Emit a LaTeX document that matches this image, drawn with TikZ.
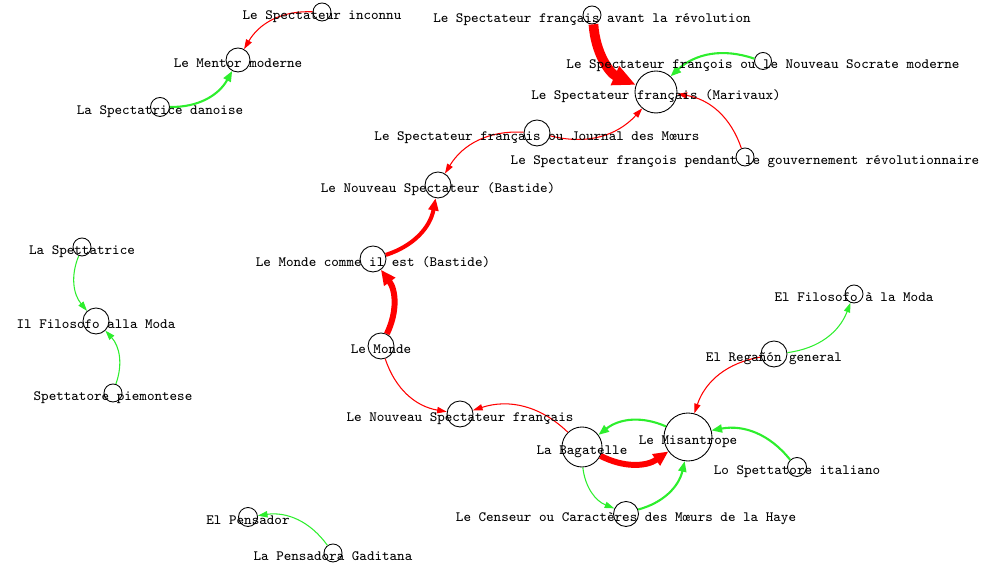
\documentclass[tikz,border=0pt]{standalone}
\usepackage{amsmath}
\usepackage{tikz}
\usetikzlibrary{arrows.meta}
\definecolor{rouge}{RGB}{255,0,0}
\definecolor{vert}{RGB}{45,238,45}
\tikzset{
  pt/.style={circle,draw=black,line width=0.5pt,inner sep=0pt},
  lbl/.style={font=\fontsize{8.1}{10}\selectfont\ttfamily,inner sep=0pt,anchor=base},
  wt1/.style={line width=0.6pt,-{Triangle[length=5.5pt,width=3.6pt]},bend right=31},
  wt2/.style={line width=1.2pt,-{Triangle[length=6pt,width=4.6pt]},bend right=31},
  wt3/.style={line width=2.3pt,-{Triangle[length=7pt,width=5.6pt]},bend right=31},
  wt4/.style={line width=3.4pt,-{Triangle[length=8.5pt,width=7.5pt]},bend right=31},
  wt5/.style={line width=5.5pt,-{Triangle[length=13pt,width=11pt]},bend right=31}
}
\begin{document}
\begin{tikzpicture}[line join=round,x=1.0cm,y=1.0cm]

\useasboundingbox (0.,0.) rectangle (19.68,11.32);
\node[pt,minimum size=0.36cm] (inconnu) at (6.44,11.08) {};
\node[pt,minimum size=0.48cm] (mentor) at (4.76,10.12) {};
\node[pt,minimum size=0.38cm] (danoise) at (3.2,9.18) {};
\node[pt,minimum size=0.36cm] (avant) at (11.84,11.02) {};
\node[pt,minimum size=0.34cm] (socrate) at (15.26,10.1) {};
\node[pt,minimum size=0.84cm] (marivaux) at (13.12,9.48) {};
\node[pt,minimum size=0.52cm] (journal) at (10.74,8.66) {};
\node[pt,minimum size=0.36cm] (pendant) at (14.9,8.18) {};
\node[pt,minimum size=0.52cm] (bastide) at (8.76,7.62) {};
\node[pt,minimum size=0.52cm] (commeil) at (7.46,6.14) {};
\node[pt,minimum size=0.52cm] (monde) at (7.62,4.4) {};
\node[pt,minimum size=0.36cm] (spettatrice) at (1.64,6.38) {};
\node[pt,minimum size=0.52cm] (filosofo) at (1.92,4.9) {};
\node[pt,minimum size=0.36cm] (piemontese) at (2.26,3.46) {};
\node[pt,minimum size=0.52cm] (nsf) at (9.2,3.04) {};
\node[pt,minimum size=0.8cm] (bagatelle) at (11.64,2.38) {};
\node[pt,minimum size=0.5cm] (censeur) at (12.52,1.04) {};
\node[pt,minimum size=0.96cm] (misantrope) at (13.76,2.58) {};
\node[pt,minimum size=0.52cm] (regannon) at (15.48,4.24) {};
\node[pt,minimum size=0.36cm] (elfilosofo) at (17.08,5.44) {};
\node[pt,minimum size=0.38cm] (italiano) at (15.94,1.98) {};
\node[pt,minimum size=0.38cm] (pensador) at (4.96,0.98) {};
\node[pt,minimum size=0.36cm] (gaditana) at (6.66,0.26) {};

% liens
\draw[wt1,rouge] (inconnu) to (mentor);
\draw[wt2,vert] (danoise) to (mentor);
\draw[wt5,rouge] (avant) to (marivaux);
\draw[wt2,vert] (socrate) to (marivaux);
\draw[wt1,rouge] (journal) to (marivaux);
\draw[wt1,rouge] (pendant) to (marivaux);
\draw[wt1,rouge] (journal) to (bastide);
\draw[wt3,rouge] (commeil) to (bastide);
\draw[wt4,rouge] (monde) to (commeil);
\draw[wt1,rouge] (monde) to (nsf);
\draw[wt1,rouge] (bagatelle) to (nsf);
\draw[wt1,vert] (spettatrice) to (filosofo);
\draw[wt1,vert] (piemontese) to (filosofo);
\draw[wt4,rouge] (bagatelle) to (misantrope);
\draw[wt2,vert] (misantrope) to (bagatelle);
\draw[wt1,vert] (bagatelle) to (censeur);
\draw[wt2,vert] (censeur) to (misantrope);
\draw[wt2,vert] (italiano) to (misantrope);
\draw[wt1,rouge] (regannon) to (misantrope);
\draw[wt1,vert] (regannon) to (elfilosofo);
\draw[wt1,vert] (gaditana) to (pensador);

\node[lbl] (inconnu-t) at ([yshift=-0.16cm]inconnu.center) {Le Spectateur inconnu};
\node[lbl] (mentor-t) at ([yshift=-0.16cm]mentor.center) {Le Mentor moderne};
\node[lbl] (danoise-t) at ([yshift=-0.16cm]danoise.center) {La Spectatrice danoise};
\node[lbl] (avant-t) at ([yshift=-0.16cm]avant.center) {Le Spectateur français avant la révolution};
\node[lbl] (socrate-t) at ([yshift=-0.16cm]socrate.center) {Le Spectateur françois ou le Nouveau Socrate moderne};
\node[lbl] (marivaux-t) at ([yshift=-0.16cm]marivaux.center) {Le Spectateur français (Marivaux)};
\node[lbl] (journal-t) at ([yshift=-0.16cm]journal.center) {Le Spectateur français ou Journal des Mœurs};
\node[lbl] (pendant-t) at ([yshift=-0.16cm]pendant.center) {Le Spectateur françois pendant le gouvernement révolutionnaire};
\node[lbl] (bastide-t) at ([yshift=-0.16cm]bastide.center) {Le Nouveau Spectateur (Bastide)};
\node[lbl] (commeil-t) at ([yshift=-0.16cm]commeil.center) {Le Monde comme il est (Bastide)};
\node[lbl] (monde-t) at ([yshift=-0.16cm]monde.center) {Le Monde};
\node[lbl] (spettatrice-t) at ([yshift=-0.16cm]spettatrice.center) {La Spettatrice};
\node[lbl] (filosofo-t) at ([yshift=-0.16cm]filosofo.center) {Il Filosofo alla Moda};
\node[lbl] (piemontese-t) at ([yshift=-0.16cm]piemontese.center) {Spettatore piemontese};
\node[lbl] (nsf-t) at ([yshift=-0.16cm]nsf.center) {Le Nouveau Spectateur français};
\node[lbl] (bagatelle-t) at ([yshift=-0.16cm]bagatelle.center) {La Bagatelle};
\node[lbl] (censeur-t) at ([yshift=-0.16cm]censeur.center) {Le Censeur ou Caractères des Mœurs de la Haye};
\node[lbl] (misantrope-t) at ([yshift=-0.16cm]misantrope.center) {Le Misantrope};
\node[lbl] (regannon-t) at ([yshift=-0.16cm]regannon.center) {El Regañón general};
\node[lbl] (elfilosofo-t) at ([yshift=-0.16cm]elfilosofo.center) {El Filosofo à la Moda};
\node[lbl] (italiano-t) at ([yshift=-0.16cm]italiano.center) {Lo Spettatore italiano};
\node[lbl] (pensador-t) at ([yshift=-0.16cm]pensador.center) {El Pensador};
\node[lbl] (gaditana-t) at ([yshift=-0.16cm]gaditana.center) {La Pensadora Gaditana};
\end{tikzpicture}
\end{document}
